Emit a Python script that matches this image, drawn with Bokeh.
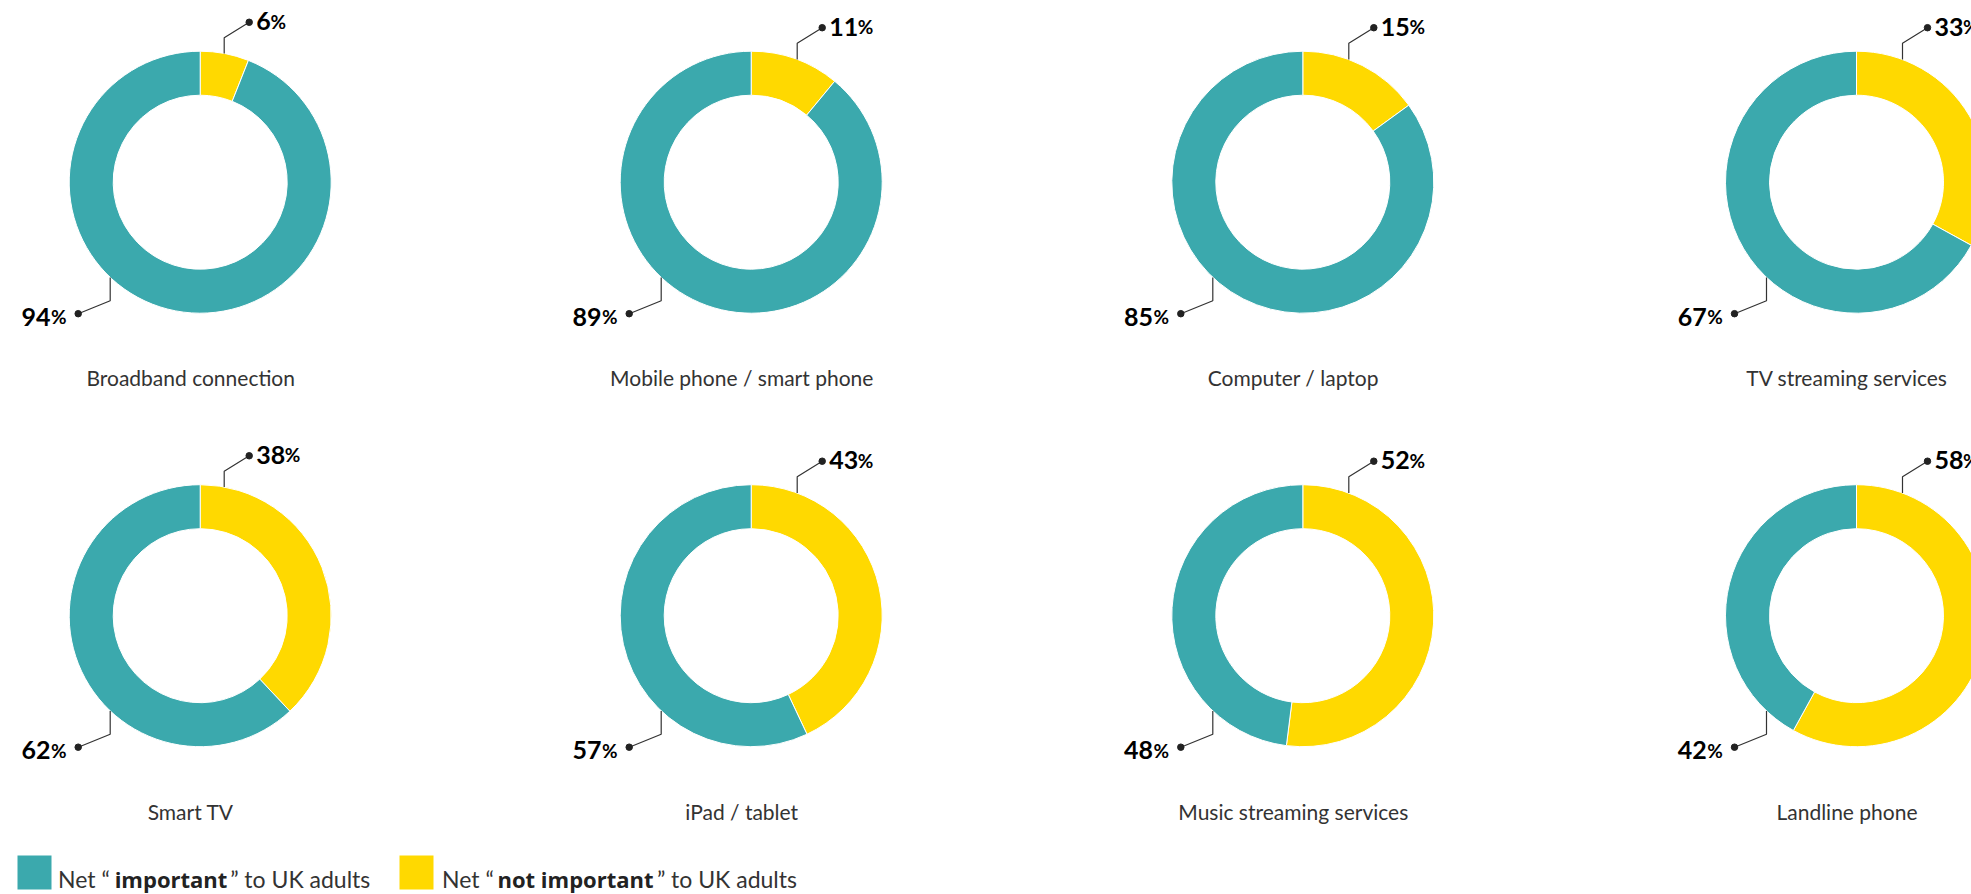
import math
from bokeh.plotting import figure
from bokeh.models import ColumnDataSource, Range1d
from bokeh.core.properties import value
from bokeh.embed import file_html
from bokeh.resources import INLINE

# ---------------- data ----------------
categories = ["Broadband connection", "Mobile phone / smart phone", "Computer / laptop",
              "TV streaming services", "Smart TV", "iPad / tablet",
              "Music streaming services", "Landline phone"]
important = [94, 89, 85, 67, 62, 57, 48, 42]
not_important = [6, 11, 15, 33, 38, 43, 52, 58]
legend_labels = [("Net \u201c", "important", "\u201d to UK adults"),
                 ("Net \u201c", "not important", "\u201d to UK adults")]

# ---------------- style ----------------
TEAL = "#3ba9ad"
YELLOW = "#ffd900"
LINE = "#333333"
FONT = "Lato"
W, H = 1971, 894
COL_X = [199.7, 750.7, 1302.3, 1856.0]   # page px
ROW_Y = [181.7, 615.2]                   # page px
R_OUT, R_IN = 131, 87
TOP_OFF = [24, 46, 46, 46]
ORIGIN = 0     # page offset of the figure
TDY = -9.5     # text baseline correction


def px(X):
    return X - ORIGIN


def py(Y):
    return H + ORIGIN - Y


def ty(Y):
    return py(Y + TDY)


p = figure(width=W, height=H, output_backend="svg", toolbar_location=None,
           x_range=Range1d(0, W), y_range=Range1d(0, H), min_border=0)
p.axis.visible = False
p.grid.visible = False
p.outline_line_color = None
p.background_fill_color = "white"
p.border_fill_color = "white"

wx, wy, ws, we, wc = [], [], [], [], []
lxs, lys = [], []
dx, dy = [], []
top_d, top_dx, top_dy, top_p, top_px = [], [], [], [], []
bot_d, bot_dx, bot_dy, bot_p, bot_px = [], [], [], [], []
cat_x, cat_y = [], []

for i, (cat, imp, nimp) in enumerate(zip(categories, important, not_important)):
    col, row = i % 4, i // 4
    cx, cy = COL_X[col], ROW_Y[row]
    a_end = math.pi / 2 - 2 * math.pi * nimp / 100.0
    # not important slice (clockwise from 12 o'clock)
    wx.append(px(cx)); wy.append(py(cy)); ws.append(a_end); we.append(math.pi / 2); wc.append(YELLOW)
    # important slice (rest)
    wx.append(px(cx)); wy.append(py(cy)); ws.append(math.pi / 2); we.append(a_end); wc.append(TEAL)

    # top leader
    off = TOP_OFF[col]
    y_ring = cy - math.sqrt(R_OUT ** 2 - off ** 2)
    y_knee = cy - math.sqrt(146.4 ** 2 - off ** 2)
    dot_x, dot_y = cx + off + 25, y_knee - 15.5
    lxs.append([px(cx + off), px(cx + off), px(dot_x)])
    lys.append([py(y_ring), py(y_knee), py(dot_y)])
    dx.append(px(dot_x)); dy.append(py(dot_y))
    s = str(nimp)
    top_d.append(s); top_dx.append(px(dot_x + 7)); top_dy.append(ty(dot_y + 8.5))
    top_p.append("%"); top_px.append(px(dot_x + 7 + 14.3 * len(s)))

    # bottom leader
    bx = cx - 90
    y_ring_b = cy + math.sqrt(R_OUT ** 2 - 90 ** 2)
    y_knee_b = cy + 118.5
    bdx, bdy = cx - 122, cy + 131.5
    lxs.append([px(bx), px(bx), px(bdx)])
    lys.append([py(y_ring_b), py(y_knee_b), py(bdy)])
    dx.append(px(bdx)); dy.append(py(bdy))
    s = str(imp)
    bot_p.append("%"); bot_px.append(px(bdx - 11.7)); bot_dy.append(ty(bdy + 12.7))
    bot_d.append(s); bot_dx.append(px(bdx - 11.7 - 16))

    cat_x.append(px(cx - 9.5)); cat_y.append(ty(cy + 205))

wsrc = ColumnDataSource(dict(x=wx, y=wy, s=ws, e=we, c=wc))
p.annular_wedge(x="x", y="y", inner_radius=R_IN, outer_radius=R_OUT,
                inner_radius_units="screen", outer_radius_units="screen",
                start_angle="s", end_angle="e", fill_color="c",
                line_color="white", line_width=1, source=wsrc)

p.multi_line(xs=lxs, ys=lys, line_color=LINE, line_width=1.2)
p.scatter(x=dx, y=dy, size=6.5, fill_color="#222222", line_color="#222222")

p.text(x=top_dx, y=top_dy, text=top_d, text_font=value(FONT), text_font_style="bold",
       text_font_size="25px", text_color="#000000", text_align="left", text_baseline="alphabetic")
p.text(x=top_px, y=top_dy, text=top_p, text_font=value(FONT), text_font_style="bold",
       text_font_size="19px", text_color="#000000", text_align="left", text_baseline="alphabetic")
p.text(x=bot_dx, y=bot_dy, text=bot_d, text_font=value(FONT), text_font_style="bold",
       text_font_size="25px", text_color="#000000", text_align="right", text_baseline="alphabetic")
p.text(x=bot_px, y=bot_dy, text=bot_p, text_font=value(FONT), text_font_style="bold",
       text_font_size="19px", text_color="#000000", text_align="right", text_baseline="alphabetic")

p.text(x=cat_x, y=cat_y, text=categories, text_font=value(FONT), text_font_size="21px",
       text_color="#333333", text_align="center", text_baseline="alphabetic")

# legend
LEG_Y = 888.3
sq_x = [17 + 17, 399 + 17]
p.rect(x=[px(v) for v in sq_x], y=[py(872)] * 2, width=34, height=34,
       width_units="screen", height_units="screen", fill_color=[TEAL, YELLOW], line_color=None)
pre_x = [57.5, 441.5]
bold_x = [170.5, 575]
post_x = [370, 796.7]
p.text(x=[px(v) for v in pre_x], y=[ty(LEG_Y)] * 2, text=[l[0] for l in legend_labels],
       text_font=value(FONT), text_font_size="23px", text_color="#333333",
       text_align="left", text_baseline="alphabetic")
p.text(x=[px(v) for v in bold_x], y=[ty(LEG_Y)] * 2, text=[l[1] for l in legend_labels],
       text_font=value("Open Sans"), text_font_size="22px", text_font_style="bold",
       text_color="#222222", text_align="center", text_baseline="alphabetic")
p.text(x=[px(v) for v in post_x], y=[ty(LEG_Y)] * 2, text=[l[2] for l in legend_labels],
       text_font=value(FONT), text_font_size="23px", text_color="#333333",
       text_align="right", text_baseline="alphabetic")

open("out.html", "w").write(file_html(p, INLINE))
